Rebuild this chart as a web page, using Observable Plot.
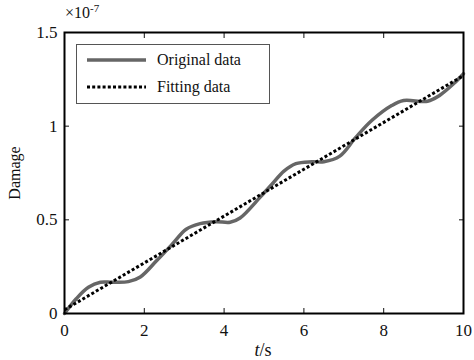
<!DOCTYPE html>
<html>
<head>
<meta charset="utf-8">
<script src="https://cdn.jsdelivr.net/npm/d3@7"></script>
<script src="https://cdn.jsdelivr.net/npm/@observablehq/plot@0.6"></script>
<style>
  html, body { margin: 0; padding: 0; background: #fff; }
  #wrap { position: relative; width: 474px; height: 360px; font-family: "Liberation Serif", "DejaVu Serif", serif; }
  #legend { position: absolute; left: 76px; top: 44px; width: 194px; height: 60px; border: 1px solid #555; background: #fff; box-sizing: border-box; }
  #legend .row { position: absolute; left: 0; display: flex; align-items: center; font-size: 16px; color: #111; }
  #exp { position: absolute; left: 65px; top: 2px; font-size: 16px; color: #111; }
  #exp sup { font-size: 11px; }
  svg text { font-family: "Liberation Serif", "DejaVu Serif", serif !important; }
</style>
</head>
<body>
<div id="wrap">
  <div id="chart"></div>
  <div id="exp">×10<sup>-7</sup></div>
  <div id="legend"></div>
</div>
<script>
// Values in units of 1e-7
const tOriginal = [0, 0.3, 0.6, 0.9, 1.2, 1.6, 1.9, 2.3, 2.7, 3.05, 3.4, 3.8, 4.15, 4.4, 4.9, 5.2, 5.5, 5.8, 6.2, 6.5, 6.9, 7.3, 7.7, 8.2, 8.5, 9.1, 9.4, 9.75, 10];
const damageOriginal = [0, 0.08, 0.14, 0.167, 0.167, 0.17, 0.195, 0.28, 0.37, 0.45, 0.48, 0.49, 0.487, 0.51, 0.62, 0.69, 0.76, 0.80, 0.81, 0.81, 0.84, 0.94, 1.03, 1.11, 1.137, 1.133, 1.164, 1.226, 1.28];
const tFitting = [0, 10];
const damageFitting = [0.02, 1.27];
const xTicks = [0, 2, 4, 6, 8, 10];
const yTicks = [0, 0.5, 1, 1.5];
const yTickLabels = ["0", "0.5", "1", "1.5"];
const seriesNames = ["Original data", "Fitting data"];

const original = tOriginal.map((t, i) => ({t, d: damageOriginal[i]}));
const fitting = tFitting.map((t, i) => ({t, d: damageFitting[i]}));

const font = "'Liberation Serif', 'DejaVu Serif', serif";
const chart = Plot.plot({
  width: 474,
  height: 360,
  marginLeft: 64,
  marginRight: 11,
  marginTop: 32,
  marginBottom: 47,
  style: {fontFamily: font, fontSize: "16px", color: "#111", background: "#fff"},
  x: {domain: [0, 10]},
  y: {domain: [0, 1.5]},
  marks: [
    Plot.line(original, {x: "t", y: "d", stroke: "#666", strokeWidth: 3.5, curve: "catmull-rom"}),
    Plot.line(fitting, {x: "t", y: "d", stroke: "#000", strokeWidth: 3, strokeDasharray: "3,2.2", strokeLinecap: "butt"}),
    Plot.axisX({ticks: xTicks, tickSize: 0, tickPadding: 10, label: null, fontSize: 17, fontFamily: font}),
    Plot.axisX({ticks: xTicks, tickSize: -5, tickFormat: () => "", label: null}),
    Plot.axisX({anchor: "top", ticks: xTicks, tickSize: -5, tickFormat: () => "", label: null}),
    Plot.axisY({ticks: yTicks, tickSize: 0, tickPadding: 7, tickFormat: (d) => yTickLabels[yTicks.indexOf(d)], label: null, fontSize: 17, fontFamily: font}),
    Plot.axisY({ticks: yTicks, tickSize: -5, tickFormat: () => "", label: null}),
    Plot.axisY({anchor: "right", ticks: yTicks, tickSize: -5, tickFormat: () => "", label: null}),
    Plot.frame({stroke: "#000", strokeWidth: 2})
  ]
});
document.getElementById("chart").appendChild(chart);

// Axis titles as SVG text
const svg = d3.select(chart);
svg.append("text").attr("x", 263).attr("y", 356).attr("text-anchor", "middle")
  .style("font-family", font).style("font-size", "18px").attr("fill", "#111")
  .html('<tspan font-style="italic">t</tspan>/s');
svg.append("text").attr("transform", "translate(20,173) rotate(-90)").attr("text-anchor", "middle")
  .style("font-family", font).style("font-size", "16px").attr("fill", "#111")
  .text("Damage");

// Legend
const legend = document.getElementById("legend");
const styles = [
  {stroke: "#666", width: 3.5, dash: ""},
  {stroke: "#000", width: 3, dash: "3,2.2"}
];
seriesNames.forEach((name, i) => {
  const row = document.createElement("div");
  row.className = "row";
  row.style.top = (i === 0 ? 5 : 32) + "px";
  const s = styles[i];
  row.innerHTML = `<svg width="80" height="20"><line x1="10" x2="69" y1="10" y2="10" stroke="${s.stroke}" stroke-width="${s.width}" stroke-dasharray="${s.dash}"/></svg><span>${name}</span>`;
  legend.appendChild(row);
});
</script>
</body>
</html>
